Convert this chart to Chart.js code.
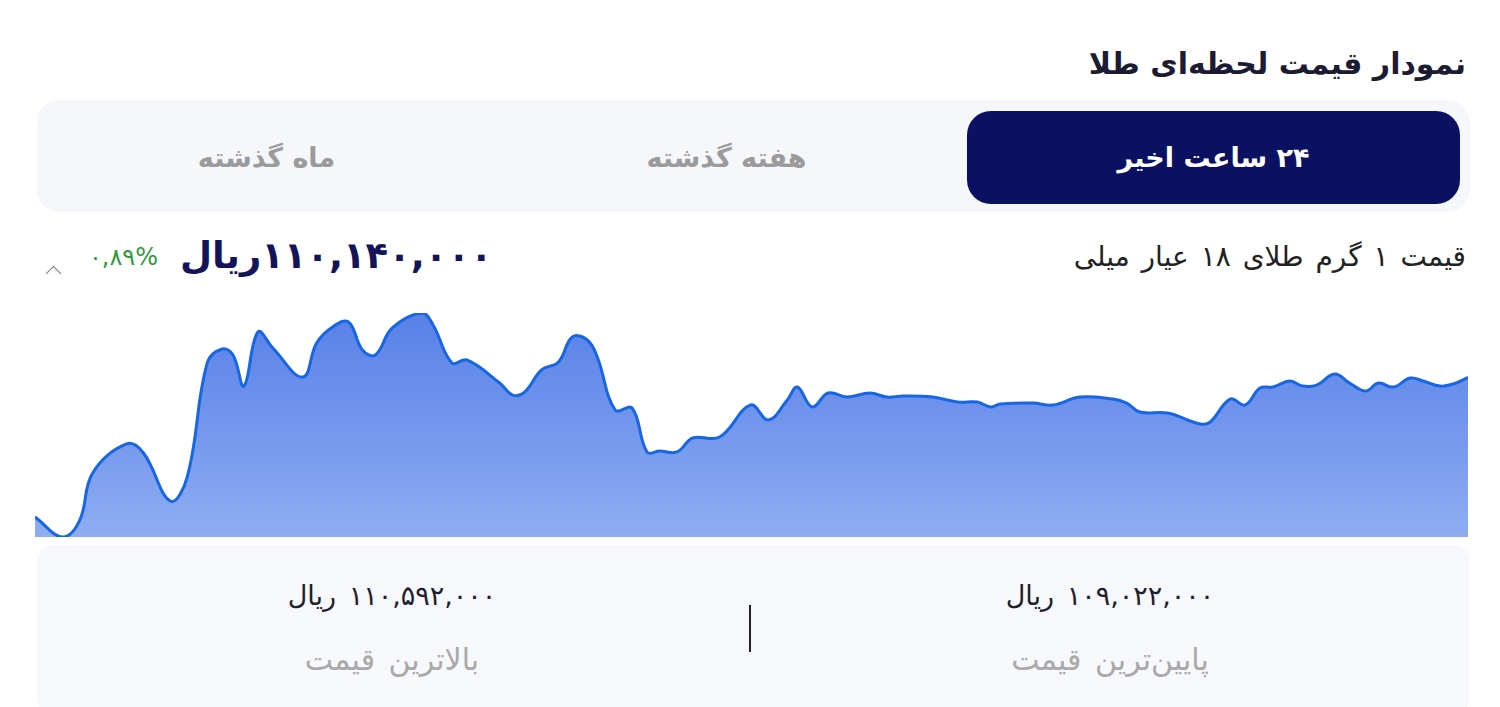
<!DOCTYPE html>
<html lang="fa">
<head>
<meta charset="utf-8">
<title>نمودار قیمت لحظه‌ای طلا</title>
<script src="https://cdn.jsdelivr.net/npm/chart.js@4/dist/chart.umd.min.js"></script>
<style>
	body { margin: 0; background: #fff; font-family: "DejaVu Sans", sans-serif; width: 1500px; height: 707px; overflow: hidden; position: relative; }
	.abs { position: absolute; }
	.title { right: 34px; top: 46px; font-size: 30px; font-weight: bold; color: #1b1b33; direction: rtl; }
	.tabs { left: 37px; top: 100px; width: 1433px; height: 112px; background: #f6f7fb; border-radius: 22px; }
	.tab { top: 111px; height: 93px; line-height: 93px; text-align: center; font-size: 27px; font-weight: bold; color: #9b9b9b; direction: rtl; }
	.tab.active { background: #0a1163; color: #fff; border-radius: 24px; }
	.label { right: 34px; top: 240px; font-size: 28px; word-spacing: 3px; color: #222; direction: rtl; }
	.price { left: 180px; top: 234px; font-size: 37px; font-weight: bold; color: #14145a; direction: rtl; }
	.change { right: 1342px; top: 243px; font-size: 24px; color: #2e9a3a; direction: ltr; }
	.caret { left: 48px; top: 268px; width: 10px; height: 10px; border-top: 1.5px solid #777; border-left: 1.5px solid #777; transform: rotate(45deg); }
	#chart-wrap { left: 30px; top: 308px; width: 1443px; height: 232px; }
	.panel { left: 37px; top: 545px; width: 1433px; height: 170px; background: #f7f8fb; border-radius: 16px; }
	.stat { width: 500px; text-align: center; direction: rtl; }
	.stat .val { font-size: 27px; word-spacing: 4px; color: #1e1e2e; font-weight: 500; }
	.stat .cap { font-size: 30px; word-spacing: 4px; color: #a9a9a9; margin-top: 31px; }
	.divider { left: 749px; top: 605px; width: 2px; height: 47px; background: #222; }
</style>
</head>
<body>
	<div class="abs title">نمودار قیمت لحظه‌ای طلا</div>

	<div class="abs tabs"></div>
	<div class="abs tab active" style="left: 967px; width: 493px;">۲۴ ساعت اخیر</div>
	<div class="abs tab" style="left: 480px; width: 493px;">هفته گذشته</div>
	<div class="abs tab" style="left: 20px; width: 493px;">ماه گذشته</div>

	<div class="abs label">قیمت ۱ گرم طلای ۱۸ عیار میلی</div>
	<div class="abs price" id="price"></div>
	<div class="abs change" id="change"></div>
	<div class="abs caret"></div>

	<div class="abs" id="chart-wrap"><canvas id="gold-chart"></canvas></div>

	<div class="abs panel"></div>
	<div class="abs stat" style="left: 142px; top: 580px;">
		<div class="val" id="max-price"></div>
		<div class="cap">بالاترین قیمت</div>
	</div>
	<div class="abs divider"></div>
	<div class="abs stat" style="left: 860px; top: 580px;">
		<div class="val" id="min-price"></div>
		<div class="cap">پایین‌ترین قیمت</div>
	</div>

<script>
	// Minutes since the start of the 24h window
	var minutes = [0, 28, 45, 58, 92, 109, 136, 153, 173, 188, 199, 210, 224, 239, 269, 283, 299, 315, 329, 342,
		359, 389, 400, 419, 434, 467, 480, 492, 509, 526, 540, 555, 565, 583, 600, 615, 628, 645, 661, 688,
		719, 737, 756, 766, 781, 797, 816, 839, 856, 872, 902, 927, 947, 960, 970, 1003, 1023, 1050, 1083, 1097,
		1110, 1138, 1171, 1181, 1201, 1216, 1231, 1244, 1261, 1274, 1288, 1306, 1321, 1337, 1350, 1365, 1382, 1395, 1412, 1425, 1440];

	// Price of 1 gram 18k gold (rial)
	var prices = [109162000, 109022000, 109141000, 109471000, 109674000, 109611000, 109274000, 109443000, 110242000, 110340000,
		110298000, 110080000, 110459000, 110347000, 110143000, 110382000, 110494000, 110529000, 110333000, 110298000,
		110487000, 110592000, 110508000, 110242000, 110263000, 110101000, 110017000, 110038000, 110193000, 110249000,
		110424000, 110403000, 110284000, 109912000, 109926000, 109618000, 109625000, 109618000, 109716000, 109723000,
		109947000, 109842000, 109982000, 110073000, 109933000, 110031000, 110003000, 110031000, 110003000, 110010000,
		110003000, 109968000, 109968000, 109933000, 109954000, 109961000, 109947000, 110003000, 109989000, 109961000,
		109898000, 109891000, 109814000, 109828000, 109989000, 109947000, 110066000, 110073000, 110115000, 110080000,
		110087000, 110164000, 110101000, 110045000, 110101000, 110073000, 110136000, 110115000, 110080000, 110094000, 110140000];

	var changePercent = '0,89';

	// Convert latin digits to persian
	function toFa(str) {
		var fa = ['۰', '۱', '۲', '۳', '۴', '۵', '۶', '۷', '۸', '۹'];
		return String(str).replace(/[0-9]/g, function(d) { return fa[d]; });
	}

	function formatPrice(n) {
		return toFa(n.toLocaleString('en-US'));
	}

	var minPrice = Math.min.apply(null, prices);
	var maxPrice = Math.max.apply(null, prices);

	document.getElementById('price').textContent = formatPrice(prices[prices.length - 1]) + 'ریال';
	document.getElementById('change').textContent = toFa(changePercent) + '%';
	document.getElementById('max-price').textContent = formatPrice(maxPrice) + ' ریال';
	document.getElementById('min-price').textContent = formatPrice(minPrice) + ' ریال';

	var points = minutes.map(function(m, i) { return {x: m, y: prices[i]}; });

	var ctx = document.getElementById('gold-chart').getContext('2d');

	new Chart(ctx, {
		type: 'line',
		data: {
			datasets: [{
				label: 'قیمت',
				data: points,
				tension: 0.4,
				pointRadius: 0,
				borderWidth: 3,
				borderColor: '#1766e3',
				backgroundColor: function(context) {
					var area = context.chart.chartArea;
					if (!area) return 'rgba(90, 130, 230, 0.9)';
					var g = context.chart.ctx.createLinearGradient(0, area.top, 0, area.bottom);
					g.addColorStop(0, '#5880e8');
					g.addColorStop(1, '#8eadf2');
					return g;
				},
				fill: 'start'
			}]
		},
		options: {
			responsive: true,
			maintainAspectRatio: false,
			animation: false,
			layout: {
				padding: {left: 5, right: 5, top: 5, bottom: 3}
			},
			plugins: {
				legend: {display: false},
				tooltip: {enabled: false}
			},
			scales: {
				x: {
					type: 'linear',
					display: false,
					min: 0,
					max: 1440
				},
				y: {
					display: false,
					min: minPrice,
					max: maxPrice
				}
			}
		}
	});
</script>
</body>
</html>
